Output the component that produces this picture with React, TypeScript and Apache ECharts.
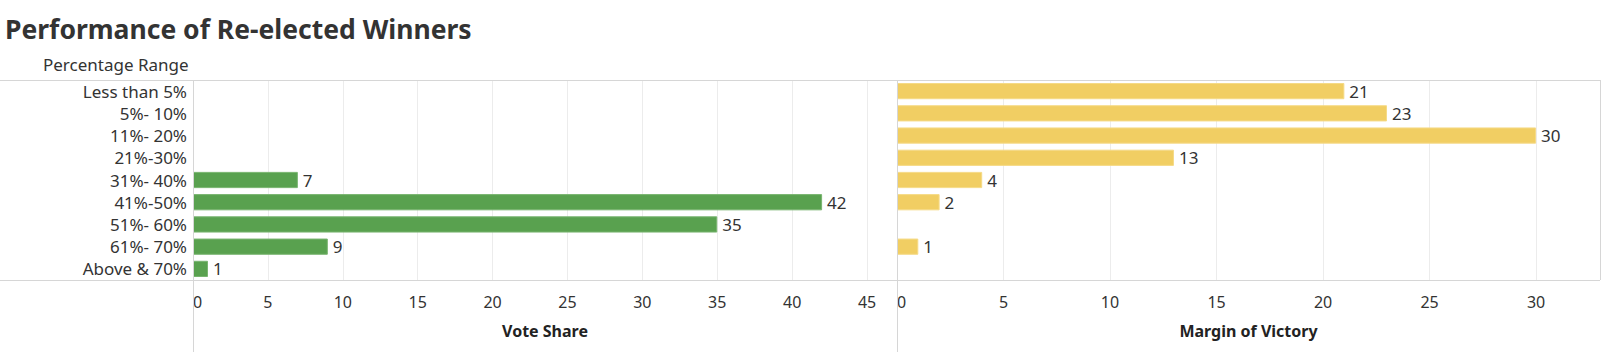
import React, { useEffect, useRef } from "react";
import * as echarts from "echarts";

const categories = [
  "Less than 5%",
  "5%- 10%",
  "11%- 20%",
  "21%-30%",
  "31%- 40%",
  "41%-50%",
  "51%- 60%",
  "61%- 70%",
  "Above & 70%",
];
const voteShare = [null, null, null, null, 7, 42, 35, 9, 1];
const marginOfVictory = [21, 23, 30, 13, 4, 2, null, 1, null];
const voteShareMax = 47;
const marginMax = 33;
const tickStep = 5;

const FONT = "'Noto Sans', 'DejaVu Sans', sans-serif";
const TEXT = "#333333";
const FRAME = "#d6d6d6";

export default function App() {
  const ref = useRef<HTMLDivElement>(null);
  useEffect(() => {
    if (!ref.current) return;
    const chart = echarts.init(ref.current, undefined, { renderer: "svg" });
    const W = 1604;
    const gTop = 80;
    const gBottom = 280;
    const leftX = 193;
    const midX = 897;
    const rightX = 1600;
    const xAxisCommon = (max: number, name: string) => ({
      type: "value",
      min: 0,
      max,
      interval: tickStep,
      name,
      nameLocation: "middle",
      nameGap: 43,
      nameTextStyle: { fontFamily: FONT, fontSize: 16, fontWeight: "bold", color: "#222" },
      axisLine: { show: false },
      axisTick: { show: false },
      splitLine: { show: true, lineStyle: { color: "#ececec", width: 1 } },
      axisLabel: {
        fontFamily: FONT,
        fontSize: 16,
        color: TEXT,
        margin: 14,
        showMaxLabel: false,
        alignMinLabel: "left",
      },
    });
    const yAxisCommon = (show: boolean) => ({
      type: "category",
      data: categories,
      inverse: true,
      axisLine: { show: false },
      axisTick: { show: false },
      splitLine: { show: false },
      axisLabel: show
        ? { fontFamily: FONT, fontSize: 17, color: TEXT, margin: 6 }
        : { show: false },
    });
    const labelStyle = {
      show: true,
      position: "right",
      distance: 5,
      fontFamily: FONT,
      fontSize: 17,
      color: TEXT,
    };
    chart.setOption({
      animation: false,
      backgroundColor: "#ffffff",
      title: {
        text: "Performance of Re-elected Winners",
        left: 5,
        top: 15,
        padding: 0,
        textStyle: { fontFamily: FONT, fontSize: 26.5, fontWeight: "bold", color: "#333" },
      },
      grid: [
        { left: leftX, right: W - midX, top: gTop, bottom: 352 - gBottom, containLabel: false },
        { left: midX, right: W - rightX, top: gTop, bottom: 352 - gBottom, containLabel: false },
      ],
      xAxis: [
        { ...xAxisCommon(voteShareMax, "Vote Share"), gridIndex: 0 },
        { ...xAxisCommon(marginMax, "Margin of Victory"), gridIndex: 1 },
      ],
      yAxis: [
        { ...yAxisCommon(true), gridIndex: 0 },
        { ...yAxisCommon(false), gridIndex: 1 },
      ],
      series: [
        {
          name: "Vote Share",
          type: "bar",
          xAxisIndex: 0,
          yAxisIndex: 0,
          data: voteShare,
          barCategoryGap: "27%",
          itemStyle: { color: "#59a14f", borderColor: "#78b46f", borderWidth: 1 },
          label: labelStyle,
        },
        {
          name: "Margin of Victory",
          type: "bar",
          xAxisIndex: 1,
          yAxisIndex: 1,
          data: marginOfVictory,
          barCategoryGap: "27%",
          itemStyle: { color: "#f1ce63", borderColor: "#f5da86", borderWidth: 1 },
          label: labelStyle,
        },
      ],
      graphic: [
        {
          type: "text",
          left: 43,
          top: 56,
          style: { text: "Percentage Range", fontFamily: FONT, fontSize: 17, fill: TEXT },
        },
        { type: "line", shape: { x1: 0, y1: gTop + 0.5, x2: rightX, y2: gTop + 0.5 }, style: { stroke: FRAME, lineWidth: 1 }, z: 10 },
        { type: "line", shape: { x1: 0, y1: gBottom + 0.5, x2: rightX, y2: gBottom + 0.5 }, style: { stroke: FRAME, lineWidth: 1 }, z: 10 },
        { type: "line", shape: { x1: leftX + 0.5, y1: gTop, x2: leftX + 0.5, y2: 352 }, style: { stroke: FRAME, lineWidth: 1 }, z: 10 },
        { type: "line", shape: { x1: midX + 0.5, y1: gTop, x2: midX + 0.5, y2: 352 }, style: { stroke: FRAME, lineWidth: 1 }, z: 10 },
        { type: "line", shape: { x1: rightX + 0.5, y1: gTop, x2: rightX + 0.5, y2: gBottom }, style: { stroke: FRAME, lineWidth: 1 }, z: 10 },
      ],
    });
    return () => chart.dispose();
  }, []);
  return (
    <div
      ref={ref}
      style={{ position: "fixed", left: 0, top: 0, width: 1604, height: 352, background: "#fff" }}
    />
  );
}
